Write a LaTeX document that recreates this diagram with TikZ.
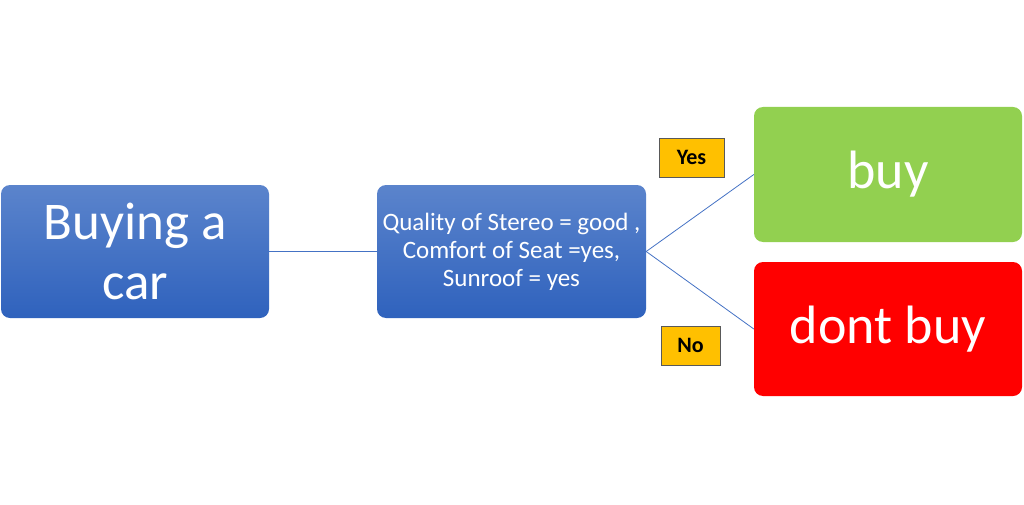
\documentclass[tikz,border=0pt]{standalone}
\usepackage{fontspec}
\setmainfont{Carlito}
\definecolor{btop}{HTML}{5B84CC}
\definecolor{bbot}{HTML}{2F62BD}
\definecolor{lineblue}{HTML}{4472C4}
\definecolor{gbox}{HTML}{92D050}
\definecolor{rbox}{HTML}{FF0000}
\definecolor{ybox}{HTML}{FFC000}
\definecolor{yedge}{HTML}{595959}
\begin{document}
\begin{tikzpicture}[x=1pt,y=-1pt,
  box/.style={rounded corners=9pt, inner sep=0pt, text=white, align=center},
  bluebox/.style={box, top color=btop, bottom color=bbot, draw=none},
  tag/.style={fill=ybox, draw=yedge, line width=0.8pt, inner sep=0pt, font=\fontsize{22}{24}\selectfont\bfseries},
  conn/.style={draw=lineblue, line width=0.8pt}]
\useasboundingbox (0,0) rectangle (1024,505);
\node[bluebox, minimum width=268pt, minimum height=133pt] (car) at (135,251.5) {};
\node[text=white, align=center, font=\fontsize{53}{60}\selectfont] at (car.center) {Buying a\\car};
\node[bluebox, minimum width=269pt, minimum height=133pt] (q) at (511.5,251.5) {};
\node[text=white, align=center, font=\fontsize{25}{28}\selectfont] at (q.center) {Quality of Stereo = good ,\\Comfort of Seat =yes,\\Sunroof = yes};
\node[box, fill=gbox, minimum width=268pt, minimum height=135pt, font=\fontsize{54}{60}\selectfont] (buy) at (888,174.5) {buy};
\node[box, fill=rbox, minimum width=268pt, minimum height=134pt, font=\fontsize{54}{60}\selectfont] (dont) at (888,329) {dont buy};
\node[tag, minimum width=65pt, minimum height=39pt] (yes) at (691.5,157.5) {Yes};
\node[tag, minimum width=59pt, minimum height=39pt] (no) at (690.5,345.5) {No};
\draw[conn] (car.east) -- (q.west);
\draw[conn] (q.east) -- (buy.west);
\draw[conn] (q.east) -- (dont.west);
\end{tikzpicture}
\end{document}
